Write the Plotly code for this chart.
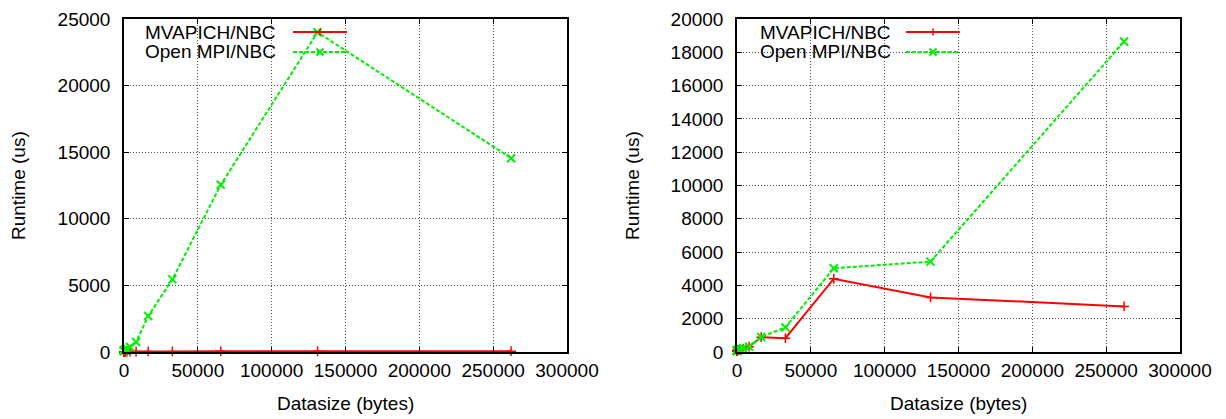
import plotly.graph_objects as go

# ---------------- data ----------------
sizes = [1, 2, 4, 8, 16, 32, 64, 128, 256, 512, 1024, 2048, 4096, 8192,
         16384, 32768, 65536, 131072, 262144]

mvapich_left = [10, 10, 11, 11, 12, 12, 13, 14, 15, 17, 20, 24, 30, 35, 40, 45, 50, 55, 60]
openmpi_left = [90, 92, 95, 98, 100, 105, 110, 120, 135, 150, 180, 230, 370, 750,
                2700, 5450, 12550, 24000, 14550]

mvapich_right = [60, 62, 64, 66, 70, 75, 80, 90, 100, 110, 130, 160, 200, 320,
                 890, 830, 4400, 3280, 2740]
openmpi_right = [70, 72, 75, 78, 80, 85, 90, 100, 115, 130, 150, 180, 230, 320,
                 900, 1480, 5030, 5430, 18650]

series_names = ["MVAPICH/NBC", "Open MPI/NBC"]
x_title = "Datasize (bytes)"
y_title = "Runtime (us)"

# ---------------- layout geometry (page has an 8px body margin) ----------------
OFF = 8
W, H = 1226 - OFF, 419 - OFF
TOP, BOT, LEFT, RIGHT = 19, 352, 124, 1180
ML, MR, MT, MB = LEFT - OFF, 1226 - RIGHT, TOP - OFF, 419 - BOT
PW = RIGHT - LEFT
PH = BOT - TOP


def px(x):
    return (x - LEFT) / PW


def py(y):
    return (BOT - y) / PH


RED = "#ff0000"
GREEN = "#00ee00"
FONT = "Liberation Sans, Arial, Helvetica, sans-serif"
FS = 19

fig = go.Figure()


def add_series(xa, ya, mv, om):
    fig.add_trace(go.Scatter(
        x=sizes, y=mv, mode="lines+markers", name=series_names[0],
        line=dict(color=RED, width=2),
        marker=dict(symbol="cross-thin", size=7, color=RED, line=dict(color=RED, width=1.5)),
        xaxis=xa, yaxis=ya, cliponaxis=False, showlegend=False))
    fig.add_trace(go.Scatter(
        x=sizes, y=om, mode="lines+markers", name=series_names[1],
        line=dict(color=GREEN, width=2, dash="4px,2px"),
        marker=dict(symbol="x-thin", size=8, color=GREEN, line=dict(color=GREEN, width=2)),
        xaxis=xa, yaxis=ya, cliponaxis=False, showlegend=False))


add_series("x", "y", mvapich_left, openmpi_left)
add_series("x2", "y2", mvapich_right, openmpi_right)

axis_common = dict(
    showline=True, linecolor="black", linewidth=1.5, mirror="ticks",
    ticks="inside", ticklen=5, tickwidth=1, tickcolor="black",
    showgrid=True, gridcolor="#555555", griddash="1px,2px", gridwidth=1,
    zeroline=False, tickformat="d", automargin=False, ticklabeloverflow="allow",
    tickfont=dict(family=FONT, size=FS, color="black"),
)

fig.update_layout(
    width=W, height=H,
    margin=dict(l=ML, r=MR, t=MT, b=MB, autoexpand=False),
    paper_bgcolor="white", plot_bgcolor="white",
    showlegend=False,
    font=dict(family=FONT, size=FS, color="black"),
    xaxis=dict(domain=[0, px(567)], range=[0, 300000], dtick=50000, anchor="y", **axis_common),
    yaxis=dict(domain=[0, 1], range=[0, 25000], dtick=5000, anchor="x",
               ticklabelstandoff=8, **axis_common),
    xaxis2=dict(domain=[px(737), 1], range=[0, 300000], dtick=50000, anchor="y2", **axis_common),
    yaxis2=dict(domain=[0, 1], range=[0, 20000], dtick=2000, anchor="x2",
                ticklabelstandoff=8, **axis_common),
)

annotations = []
shapes = []

# axis titles
for cx, ycx in [(345, 18), (958, 632)]:
    annotations.append(dict(text=x_title, x=px(cx), y=py(403), xref="paper", yref="paper",
                            showarrow=False, xanchor="center", yanchor="middle",
                            font=dict(family=FONT, size=FS)))
    annotations.append(dict(text=y_title, x=px(ycx), y=py(186), xref="paper", yref="paper",
                            showarrow=False, xanchor="center", yanchor="middle", textangle=-90,
                            font=dict(family=FONT, size=FS)))

# manual legends (text right-aligned, sample on right) like gnuplot
legend_specs = [
    dict(box=(126, 20, 356, 62), text_right=278, line=(293, 347), rows=(32, 52)),
    dict(box=(740, 20, 968, 62), text_right=893, line=(906, 960), rows=(32, 52)),
]
for spec in legend_specs:
    bx0, by0, bx1, by1 = spec["box"]
    shapes.append(dict(type="rect", xref="paper", yref="paper",
                       x0=px(bx0), x1=px(bx1), y0=py(by1), y1=py(by0),
                       fillcolor="white", line=dict(width=0), layer="between"))
    lx0, lx1 = spec["line"]
    cx = (lx0 + lx1) / 2
    for i, (name, color) in enumerate(zip(series_names, [RED, GREEN])):
        ry = spec["rows"][i]
        annotations.append(dict(text=name, x=px(spec["text_right"]), y=py(ry),
                                xref="paper", yref="paper", showarrow=False,
                                xanchor="right", yanchor="middle",
                                font=dict(family=FONT, size=FS)))
        dash = "solid" if i == 0 else "4px,2px"
        shapes.append(dict(type="line", xref="paper", yref="paper",
                           x0=px(lx0), x1=px(lx1), y0=py(ry), y1=py(ry),
                           line=dict(color=color, width=2, dash=dash), layer="above"))
        s = 3.5
        if i == 0:
            path = (f"M{px(cx - s)},{py(ry)} L{px(cx + s)},{py(ry)} "
                    f"M{px(cx)},{py(ry - s)} L{px(cx)},{py(ry + s)}")
            shapes.append(dict(type="path", xref="paper", yref="paper", path=path,
                               line=dict(color=color, width=1.5), layer="above"))
        else:
            path = (f"M{px(cx - s)},{py(ry - s)} L{px(cx + s)},{py(ry + s)} "
                    f"M{px(cx - s)},{py(ry + s)} L{px(cx + s)},{py(ry - s)}")
            shapes.append(dict(type="path", xref="paper", yref="paper", path=path,
                               line=dict(color=color, width=2), layer="above"))

fig.update_layout(annotations=annotations, shapes=shapes)

fig.write_html("out.html")
